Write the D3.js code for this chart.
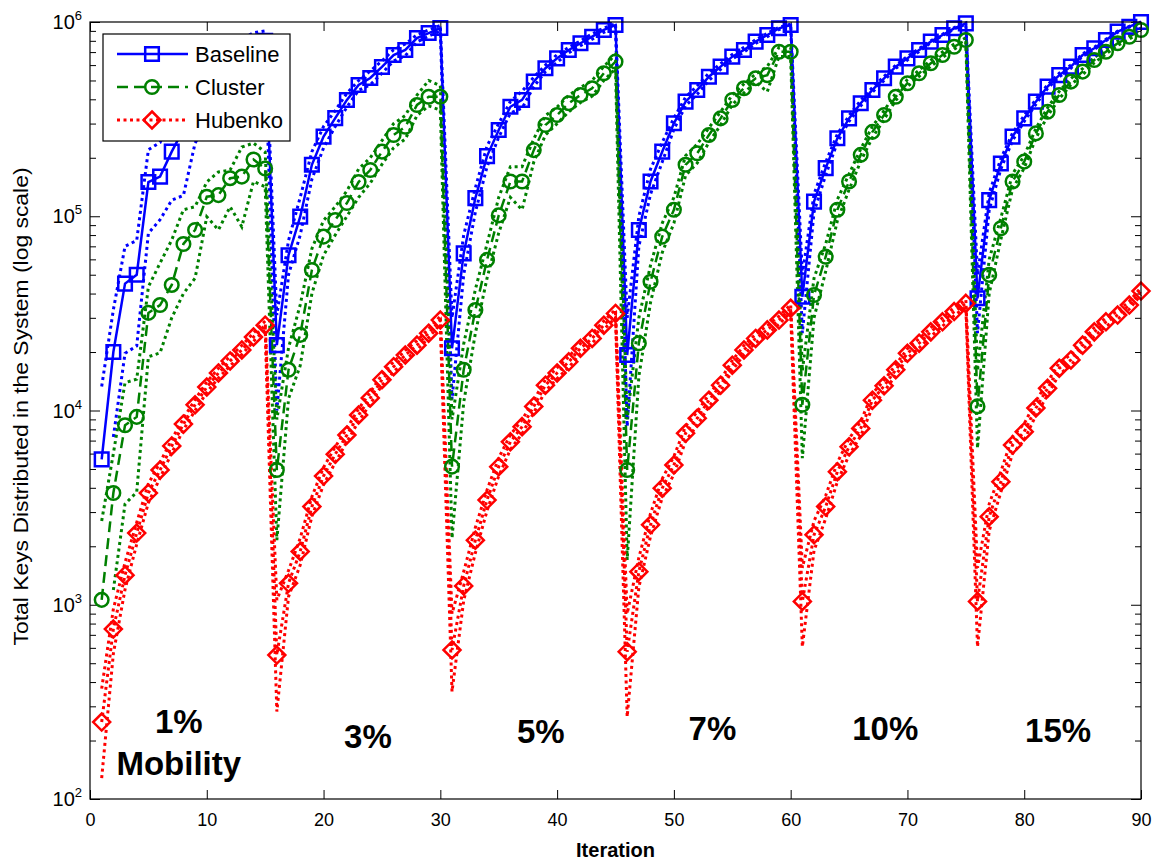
<!DOCTYPE html>
<html><head><meta charset="utf-8">
<script src="https://cdn.jsdelivr.net/npm/d3@7"></script>
<style>body{margin:0;background:#fff;} svg{display:block;font-family:"Liberation Sans",Arial,sans-serif;}</style>
</head><body><svg id="c" width="1156" height="863"></svg>
<script>
// ---------------- DATA ----------------
const iterations = d3.range(1, 91);
const xTicks = [0,10,20,30,40,50,60,70,80,90];
const yTicks = [1e2,1e3,1e4,1e5,1e6];
const yTickExp = ["2","3","4","5","6"];
const seriesNames = ["Baseline","Cluster","Hubenko"];
const mobilityLabels = ["1%","3%","5%","7%","10%","15%"];

const baseline = [
 5600,20000,45000,50000,150000,160000,215000,280000,350000,420000,490000,560000,640000,720000,800000,
 21700,63000,99500,184000,257000,320000,397000,474000,515000,587000,676000,718000,827000,877000,931000,
 20900,64400,124000,204000,278000,366000,397000,493000,578000,650000,718000,777000,840000,910000,965000,
 19300,84900,151000,215000,301000,389000,447000,523000,589000,663000,718000,792000,857000,928000,965000,
 38500,119000,177000,252000,319000,382000,447000,513000,589000,650000,718000,792000,857000,928000,984000,
 37800,121000,187000,257000,319000,389000,465000,533000,589000,676000,732000,808000,892000,946000,1000000];
const baselineUpper = [
 13300,33000,70000,75000,220000,240000,330000,420000,500000,580000,650000,730000,820000,880000,900000,
 31000,75000,125000,215000,290000,350000,430000,500000,560000,630000,720000,770000,860000,910000,960000,
 30000,80000,140000,230000,300000,390000,440000,520000,600000,680000,740000,800000,870000,930000,980000,
 30000,100000,175000,240000,320000,410000,470000,545000,610000,680000,740000,810000,875000,940000,975000,
 50000,130000,190000,265000,330000,395000,460000,525000,600000,665000,730000,800000,865000,935000,990000,
 50000,132000,198000,268000,330000,400000,475000,545000,600000,685000,742000,815000,898000,950000,1000000];
const baselineLower = [
 null,7300,19700,21500,81700,96000,121000,128000,238000,300000,360000,420000,500000,560000,650000,
 10000,50000,80000,155000,225000,290000,365000,445000,475000,545000,630000,670000,790000,845000,900000,
 11400,50000,105000,180000,255000,340000,360000,465000,555000,620000,695000,755000,815000,885000,950000,
 8260,70000,130000,190000,280000,370000,425000,500000,570000,645000,700000,775000,840000,915000,955000,
 25000,105000,163000,240000,308000,370000,435000,500000,578000,637000,705000,783000,850000,920000,975000,
 25000,108000,175000,245000,308000,377000,455000,522000,578000,667000,722000,800000,885000,940000,995000];

const cluster = [
 1060,3760,8400,9270,31800,34900,44300,72000,85000,126000,128500,157000,160000,196000,176000,
 4940,16200,24500,52900,78500,95700,117000,150000,173000,215000,262000,289000,374000,412000,412000,
 5140,16200,32900,59600,101000,151000,151000,219000,295000,332000,382000,421000,456000,545000,625000,
 4940,22200,46000,78500,108000,184000,211000,262000,319000,397000,456000,513000,533000,703000,703000,
 10700,39300,61900,108000,151000,207000,272000,332000,412000,484000,545000,613000,676000,746000,808000,
 10500,49900,86700,151000,191000,267000,345000,421000,493000,555000,637000,703000,777000,840000,910000];
const clusterUpper = [
 2700,6000,13900,14500,43300,57400,75500,108000,112000,150000,169000,173000,227000,238000,214000,
 9000,21000,35000,68000,95000,112000,135000,175000,200000,245000,300000,330000,420000,500000,470000,
 9000,22000,42000,72000,125000,180000,180000,250000,330000,365000,420000,460000,500000,590000,680000,
 9000,30000,56000,92000,125000,205000,235000,285000,345000,420000,480000,540000,590000,740000,740000,
 16000,48000,72000,122000,165000,222000,290000,350000,430000,505000,565000,635000,700000,770000,830000,
 16000,60000,98000,165000,205000,283000,362000,440000,512000,575000,657000,722000,797000,862000,930000];
const clusterLower = [
 null,1190,3300,3800,18900,19800,30000,40000,48000,99500,85000,112000,88300,151000,142000,
 2150,11500,17000,40000,63000,80000,100000,125000,148000,185000,225000,250000,330000,370000,352000,
 2200,11000,25000,48000,82000,125000,108000,190000,262000,300000,345000,385000,415000,500000,575000,
 1700,15000,36000,65000,92000,162000,188000,240000,295000,375000,432000,490000,438000,665000,665000,
 5680,30000,52000,95000,137000,192000,254000,315000,395000,465000,525000,592000,655000,725000,787000,
 6390,40000,76000,138000,177000,252000,328000,403000,475000,535000,617000,684000,757000,818000,890000];

const hubenko = [
 249,750,1420,2340,3760,4940,6570,8510,10700,13200,15600,18000,20500,23900,27500,
 551,1290,1880,3200,4600,5950,7480,9480,11600,14400,16800,19300,21700,25000,29200,
 585,1250,2150,3460,5140,6900,8260,10500,13500,15600,17800,20900,23500,27500,31600,
 573,1480,2580,3980,5240,7630,9120,11300,13500,17100,20500,23500,26000,29200,33600,
 1040,2290,3200,4840,6510,8090,11300,13400,16200,19700,22200,25400,28600,32300,35600,
 1040,2840,4300,6640,7780,10300,13000,16500,18200,21700,25400,28600,31000,34900,41200];
const hubenkoUpper = [
 370,950,1650,2650,4200,5400,7100,9100,11400,14000,16500,19000,21600,25100,28900,
 1060,1500,2200,3600,5100,6500,8100,10200,12400,15300,17800,20400,22900,26300,30600,
 900,1480,2500,3900,5700,7500,8950,11300,14400,16600,18900,22100,24800,28900,33100,
 900,1750,2950,4450,5800,8300,9850,12100,14400,18100,21600,24700,27300,30600,35100,
 1550,2700,3650,5400,7150,8800,12200,14300,17200,20800,23400,26700,30000,33800,37200,
 1550,3300,4850,7350,8550,11200,14000,17600,19400,22900,26700,30000,32500,36500,43000];
const hubenkoLower = [
 128,560,1200,2050,3350,4500,6050,7950,10000,12400,14700,17000,19400,22700,26100,
 282,1100,1600,2850,4150,5400,6900,8800,10800,13500,15800,18200,20500,23700,27800,
 357,1050,1850,3050,4600,6300,7600,9750,12600,14600,16700,19700,22200,26100,30100,
 265,1230,2250,3550,4700,6950,8400,10500,12600,16100,19400,22300,24700,27800,32100,
 608,1900,2780,4300,5900,7400,10400,12500,15200,18600,21000,24100,27200,30800,34000,
 608,2400,3800,6000,7050,9450,12000,15400,17000,20500,24100,27200,29500,33300,39400];

// ---------------- LAYOUT ----------------
const W = 1156, H = 863;
const P = {l: 90, r: 1141, t: 22, b: 799};
const svg = d3.select("#c");
const x = d3.scaleLinear().domain([0, 90]).range([P.l, P.r]);
const y = d3.scaleLog().domain([1e2, 1e6]).range([P.b, P.t]);

const series = [
  {name: seriesNames[0], mean: baseline, up: baselineUpper, lo: baselineLower, color: "#0000ff", dash: null, marker: "square"},
  {name: seriesNames[1], mean: cluster, up: clusterUpper, lo: clusterLower, color: "#008000", dash: "11,6", marker: "circle"},
  {name: seriesNames[2], mean: hubenko, up: hubenkoUpper, lo: hubenkoLower, color: "#ff0000", dash: "3,3.5", marker: "diamond"}
];
const dotted = "3,3.5";

const toPts = arr => iterations.map((it, k) => ({i: it, v: arr[k]}));
const line = d3.line().defined(d => d.v != null).x(d => x(d.i)).y(d => y(d.v));

function markerPath(type) {
  if (type === "square") return "M-6.8,-6.8H6.8V6.8H-6.8Z";
  if (type === "diamond") return "M0,-8.5L8.5,0L0,8.5L-8.5,0Z";
  return d3.symbol(d3.symbolCircle, Math.PI * 6.8 * 6.8)();
}

// axes (inward ticks, box)
const gx = svg.append("g").attr("transform", `translate(0,${P.b})`)
  .call(d3.axisBottom(x).tickValues(xTicks).tickSize(-9).tickPadding(14).tickFormat(d3.format("d")));
gx.selectAll("text").attr("font-size", 18).attr("fill", "#000");
svg.append("g").attr("transform", `translate(0,${P.t})`)
  .call(d3.axisTop(x).tickValues(xTicks).tickSize(-9).tickFormat(""));

const minorTicks = [];
[1e2,1e3,1e4,1e5].forEach(dec => [2,3,4,5,6,7,8,9].forEach(m => minorTicks.push(dec * m)));
svg.append("g").attr("transform", `translate(${P.l},0)`)
  .call(d3.axisLeft(y).tickValues(yTicks).tickSize(-10).tickFormat(""));
svg.append("g").attr("transform", `translate(${P.l},0)`)
  .call(d3.axisLeft(y).tickValues(minorTicks).tickSize(-6).tickFormat(""));
svg.append("g").attr("transform", `translate(${P.r},0)`)
  .call(d3.axisRight(y).tickValues(yTicks).tickSize(-10).tickFormat(""));
svg.append("g").attr("transform", `translate(${P.r},0)`)
  .call(d3.axisRight(y).tickValues(minorTicks).tickSize(-6).tickFormat(""));
svg.selectAll(".domain").remove();
svg.selectAll(".tick line").attr("stroke", "#000").attr("stroke-width", 1);

// y tick labels 10^n
yTicks.forEach((v, k) => {
  const t = svg.append("text").attr("x", 82).attr("y", y(v) + 7)
    .attr("text-anchor", "end").attr("font-size", 20).attr("fill", "#000");
  t.append("tspan").text("10");
  t.append("tspan").attr("dy", -9).attr("font-size", 13).text(yTickExp[k]);
});

// means, bounds, markers
const plot = svg.append("g");
series.forEach(s => {
  plot.append("path").attr("d", line(toPts(s.mean))).attr("fill", "none")
    .attr("stroke", s.color).attr("stroke-width", s.marker === "diamond" ? 3 : 2.5)
    .attr("stroke-dasharray", s.dash);
});
series.forEach(s => {
  [s.up, s.lo].forEach(arr => {
    plot.append("path").attr("d", line(toPts(arr))).attr("fill", "none")
      .attr("stroke", s.color).attr("stroke-width", 3).attr("stroke-dasharray", dotted);
  });
});
series.forEach(s => {
  plot.selectAll(null).data(toPts(s.mean)).join("path")
    .attr("transform", d => `translate(${x(d.i)},${y(d.v)})`)
    .attr("d", markerPath(s.marker)).attr("fill", "none")
    .attr("stroke", s.color).attr("stroke-width", 2.5);
});

// frame
svg.append("rect").attr("x", P.l).attr("y", P.t).attr("width", P.r - P.l).attr("height", P.b - P.t)
  .attr("fill", "none").attr("stroke", "#000").attr("stroke-width", 1.2);

// mobility annotations
const annot = [
  {t: mobilityLabels[0], i: 7.6, v: 219},
  {t: "Mobility", i: 7.6, v: 133},
  {t: mobilityLabels[1], i: 23.8, v: 183},
  {t: mobilityLabels[2], i: 38.6, v: 194},
  {t: mobilityLabels[3], i: 53.3, v: 201},
  {t: mobilityLabels[4], i: 68.1, v: 201},
  {t: mobilityLabels[5], i: 82.9, v: 196}
];
annot.forEach(a => svg.append("text").attr("x", x(a.i)).attr("y", y(a.v))
  .attr("text-anchor", "middle").attr("font-weight", "bold").attr("font-size", 33).attr("fill", "#000").text(a.t));

// legend
const lg = svg.append("g");
lg.append("rect").attr("x", 103).attr("y", 34).attr("width", 187).attr("height", 107)
  .attr("fill", "#fff").attr("stroke", "#000").attr("stroke-width", 1.2);
series.forEach((s, k) => {
  const yy = 54 + k * 33;
  lg.append("line").attr("x1", 117).attr("x2", 188).attr("y1", yy).attr("y2", yy)
    .attr("stroke", s.color).attr("stroke-width", s.marker === "diamond" ? 3 : 2.5).attr("stroke-dasharray", s.dash);
  lg.append("path").attr("transform", `translate(152,${yy})`).attr("d", markerPath(s.marker))
    .attr("fill", "none").attr("stroke", s.color).attr("stroke-width", 2.5);
  lg.append("text").attr("x", 195).attr("y", yy + 8).attr("font-size", 22).attr("fill", "#000").text(s.name);
});

// axis titles
svg.append("text").attr("x", (P.l + P.r) / 2).attr("y", 857).attr("text-anchor", "middle")
  .attr("font-weight", "bold").attr("font-size", 20).attr("fill", "#000").text("Iteration");
svg.append("text").attr("transform", `translate(28,${(P.t + P.b) / 2 - 4}) rotate(-90)`)
  .attr("text-anchor", "middle").attr("font-size", 20).attr("fill", "#000")
  .attr("textLength", 478).attr("lengthAdjust", "spacingAndGlyphs")
  .text("Total Keys Distributed in the System (log scale)");
</script></body></html>
